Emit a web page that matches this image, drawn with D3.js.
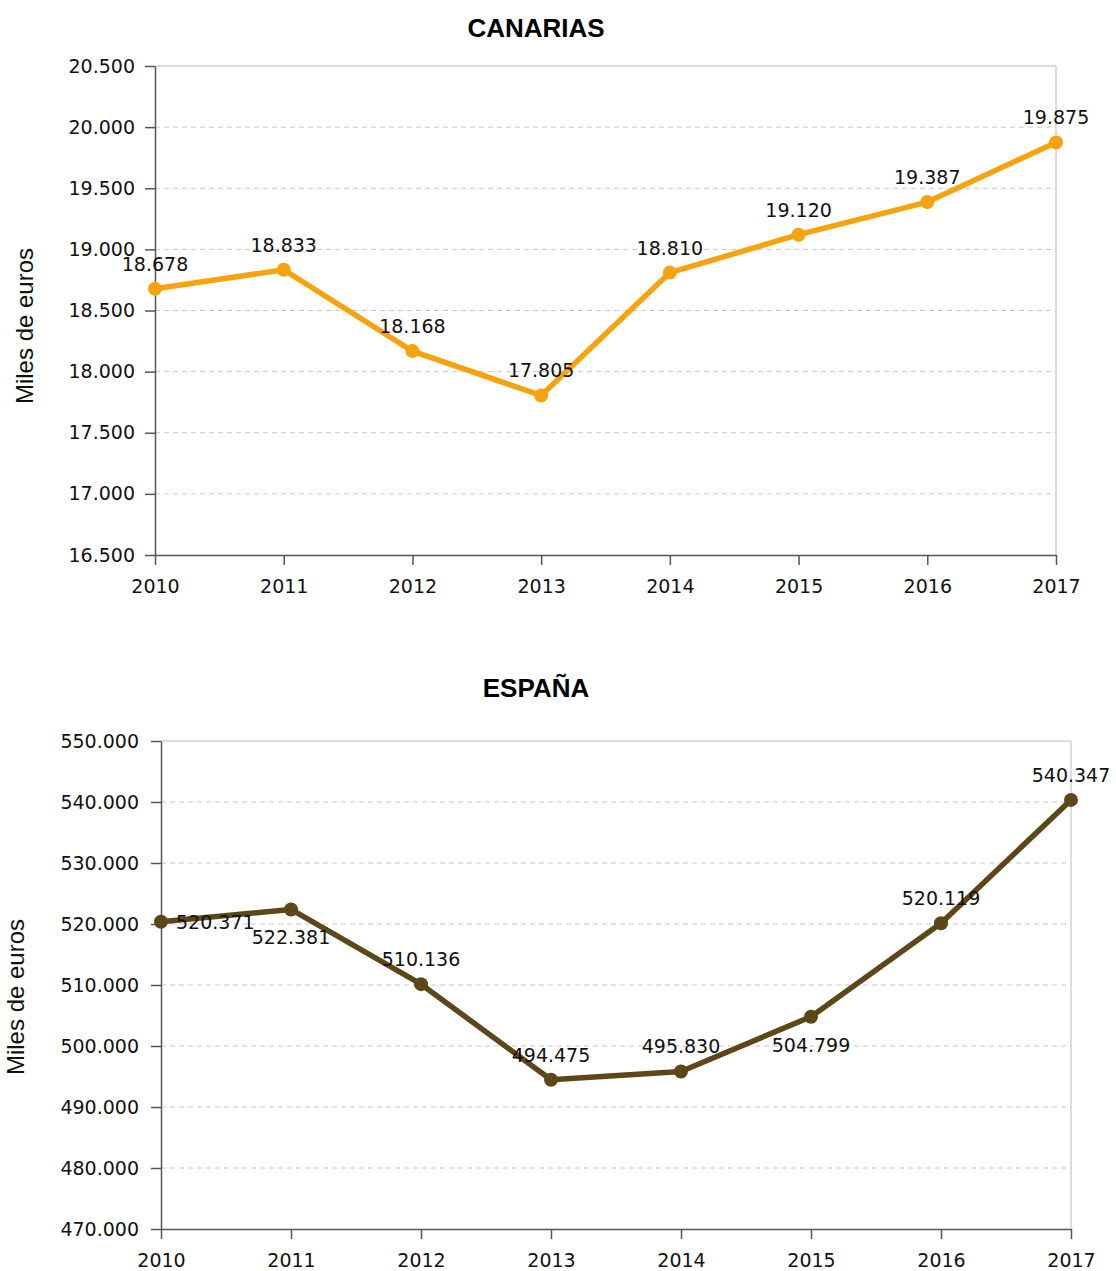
<!DOCTYPE html>
<html><head><meta charset="utf-8">
<script src="https://cdn.jsdelivr.net/npm/d3@7"></script>
<style>body{margin:0;background:#fff}svg{display:block}</style>
</head><body>
<script>
const years = ["2010","2011","2012","2013","2014","2015","2016","2017"];
const canariasValues = [18678, 18833, 18168, 17805, 18810, 19120, 19387, 19875];
const espanaValues = [520371, 522381, 510136, 494475, 495830, 504799, 520119, 540347];
const canariasTicks = [16500,17000,17500,18000,18500,19000,19500,20000,20500];
const espanaTicks = [470000,480000,490000,500000,510000,520000,530000,540000,550000];
const yTitle = "Miles de euros";

const loc = d3.formatLocale({decimal:",", thousands:".", grouping:[3], currency:["","€"]});
const fmt = loc.format(",d");

const svg = d3.select("body").append("svg").attr("width",1116).attr("height",1271);

function drawChart(cfg){
  const g = svg.append("g");
  const x = d3.scalePoint().domain(years).range([cfg.left, cfg.right]);
  const y = d3.scaleLinear().domain([cfg.ticks[0], cfg.ticks[cfg.ticks.length-1]]).range([cfg.bottom, cfg.top]);
  g.append("text").attr("x", cfg.titleX).attr("y", cfg.titleY).attr("text-anchor","middle")
    .style("font-family","'Liberation Sans', Arial, sans-serif").style("font-weight","bold").style("font-size","26px")
    .attr("fill","#000").text(cfg.title);
  g.append("g").selectAll("line").data(cfg.ticks.slice(1,-1)).join("line")
    .attr("x1", cfg.left).attr("x2", cfg.right).attr("y1", d=>y(d)).attr("y2", d=>y(d))
    .attr("stroke","#c8c8c8").attr("stroke-dasharray","5,4").attr("stroke-width",1);
  g.append("line").attr("x1",cfg.left).attr("x2",cfg.right).attr("y1",cfg.top).attr("y2",cfg.top).attr("stroke","#bbb");
  g.append("line").attr("x1",cfg.right).attr("x2",cfg.right).attr("y1",cfg.top).attr("y2",cfg.bottom).attr("stroke","#bbb");
  const ya = g.append("g").attr("transform",`translate(${cfg.left},0)`)
    .call(d3.axisLeft(y).tickValues(cfg.ticks).tickFormat(fmt).tickSize(10).tickPadding(cfg.yPad).tickSizeOuter(0));
  const xa = g.append("g").attr("transform",`translate(0,${cfg.bottom})`)
    .call(d3.axisBottom(x).tickSize(10).tickPadding(15).tickSizeOuter(0));
  [ya,xa].forEach(a=>{
    a.select(".domain").attr("stroke","#555").attr("stroke-width",1.5);
    a.selectAll(".tick line").attr("stroke","#555").attr("stroke-width",1.5);
    a.selectAll(".tick text").style("font-family","'DejaVu Sans', sans-serif").style("font-size","19px").attr("fill","#111");
  });
  g.append("text").attr("transform",`translate(${cfg.yTitleX},${cfg.yTitleY}) rotate(-90)`).attr("text-anchor","middle")
    .attr("dy","0.35em")
    .style("font-family","'Liberation Sans', Arial, sans-serif").style("font-size","24px").attr("fill","#111").text(yTitle);
  const data = years.map((yr,i)=>({yr, v: cfg.values[i], place: cfg.places[i]}));
  g.append("path").datum(data).attr("fill","none").attr("stroke",cfg.color).attr("stroke-width",5.5)
    .attr("stroke-linejoin","round")
    .attr("d", d3.line().x(d=>x(d.yr)).y(d=>y(d.v)));
  g.append("g").selectAll("circle").data(data).join("circle")
    .attr("cx", d=>x(d.yr)).attr("cy", d=>y(d.v)).attr("r",7).attr("fill",cfg.color);
  g.append("g").selectAll("text").data(data).join("text")
    .attr("x", d=> d.place==="right" ? x(d.yr)+15 : x(d.yr))
    .attr("y", d=> d.place==="above" ? y(d.v)-18 : d.place==="below" ? y(d.v)+35 : y(d.v)+7)
    .attr("text-anchor", d=> d.place==="right" ? "start" : "middle")
    .style("font-family","'DejaVu Sans', sans-serif").style("font-size","19px").attr("fill","#111")
    .text(d=>fmt(d.v));
}

drawChart({title:"CANARIAS", titleX:536, titleY:37, left:155, right:1056, top:66, bottom:555,
  ticks:canariasTicks, values:canariasValues, color:"#f5a30f", yPad:10, yTitleX:25, yTitleY:326,
  places:["above","above","above","above","above","above","above","above"]});
drawChart({title:"ESPAÑA", titleX:536, titleY:697, left:161, right:1071, top:741, bottom:1229,
  ticks:espanaTicks, values:espanaValues, color:"#5c4718", yPad:12, yTitleX:16, yTitleY:997,
  places:["right","below","above","above","above","below","above","above"]});
</script>
</body></html>
